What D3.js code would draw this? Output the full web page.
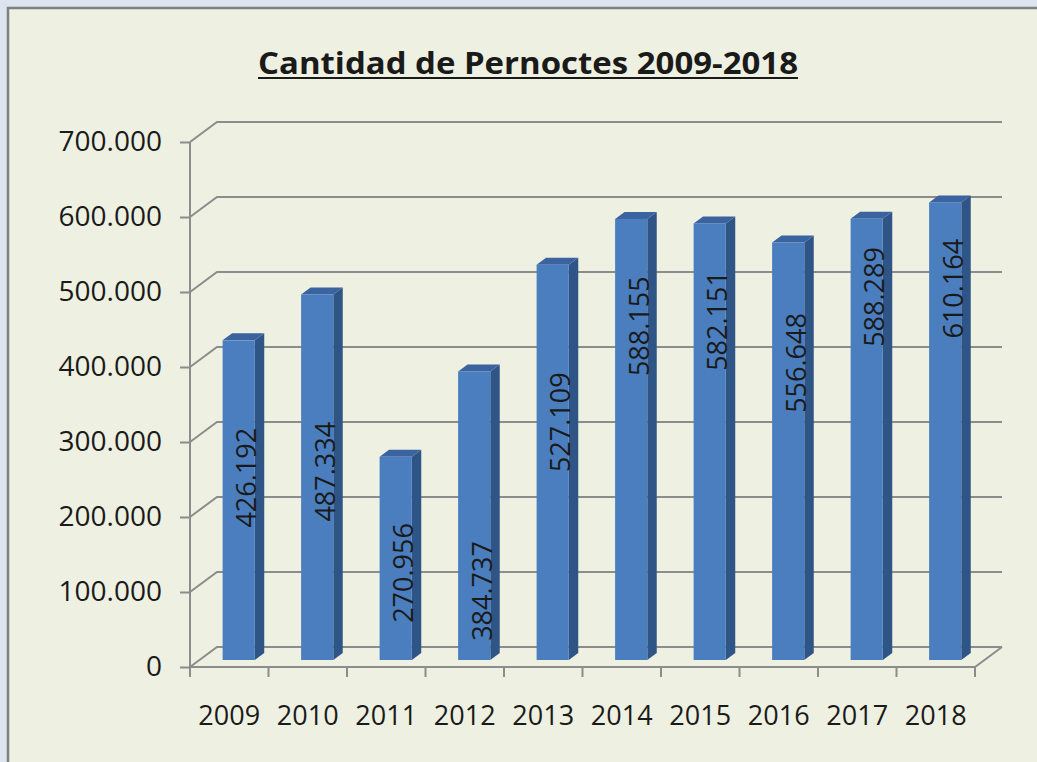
<!DOCTYPE html>
<html>
<head>
<meta charset="utf-8">
<script src="https://cdn.jsdelivr.net/npm/d3@7"></script>
<style>
  body { margin: 0; background: #dce4f0; }
  svg { display: block; }
  text { font-family: "Open Sans", sans-serif; fill: #1a1a1a; }
</style>
</head>
<body>
<div id="chart"></div>
<script>
// Data
var years = ["2009", "2010", "2011", "2012", "2013", "2014", "2015", "2016", "2017", "2018"];
var pernoctes = [426192, 487334, 270956, 384737, 527109, 588155, 582151, 556648, 588289, 610164];
// where each value label sits along its bar (in axis units)
var labelAt = [243000, 251000, 116000, 92000, 317000, 445000, 452000, 396000, 484000, 495000];
var yTicks = [0, 100000, 200000, 300000, 400000, 500000, 600000, 700000];
var title = "Cantidad de Pernoctes 2009-2018";

// Placement
var width = 1037,
  height = 762,
  left = 190,
  right = 975,
  floorY = 667,
  topY = 142,
  depthX = 27,   // full depth of the 3d box
  depthY = -20,
  barFront = 0.35, // bars sit between these depth fractions
  barBack = 0.70;

var es = d3.formatLocale({decimal: ",", thousands: ".", grouping: [3], currency: ["", ""]});
var fmt = es.format(",d");

var x = d3.scaleBand()
  .domain(years)
  .range([left, right])
  .paddingInner(0.59)
  .paddingOuter(0.295);

var y = d3.scaleLinear()
  .domain([0, 700000])
  .range([floorY, topY]);

// shift a front-plane point back by depth fraction d
function px(xv, d) { return xv + d * depthX; }
function py(yv, d) { return yv + d * depthY; }

var svg = d3.select("#chart")
  .append("svg")
  .attr("width", width)
  .attr("height", height);

svg.append("rect")
  .attr("width", width)
  .attr("height", height)
  .attr("fill", "#dce4f0");

svg.append("rect")
  .attr("x", 8)
  .attr("y", 8)
  .attr("width", width + 20)
  .attr("height", height + 20)
  .attr("fill", "#eef0e1")
  .attr("stroke", "#808080")
  .attr("stroke-width", 2.5);

// title
var titleText = svg.append("text")
  .attr("x", 528)
  .attr("y", 74)
  .attr("text-anchor", "middle")
  .attr("font-size", 30)
  .attr("font-weight", "bold")
  .attr("textLength", 540)
  .attr("lengthAdjust", "spacingAndGlyphs")
  .text(title);

svg.append("line")
  .attr("x1", 258)
  .attr("x2", 798)
  .attr("y1", 78)
  .attr("y2", 78)
  .attr("stroke", "#1a1a1a")
  .attr("stroke-width", 2.2);

var grid = svg.append("g")
  .attr("fill", "none")
  .attr("stroke", "#8c8c8c")
  .attr("stroke-width", 2);

// gridlines: diagonal on the side wall, then along the back wall
grid.selectAll("path.grid")
  .data(yTicks)
  .enter().append("path")
  .attr("class", "grid")
  .attr("d", function(d) {
    return "M" + left + "," + y(d) +
      "L" + px(left, 1) + "," + py(y(d), 1) +
      "L" + px(right, 1) + "," + py(y(d), 1);
  });

// floor front edge and right edge
grid.append("path")
  .attr("d", "M" + left + "," + floorY + "L" + right + "," + floorY +
    "L" + px(right, 1) + "," + py(floorY, 1));

// y axis
var yAxis = d3.axisLeft(y)
  .tickValues(yTicks)
  .tickSize(10)
  .tickPadding(18)
  .tickFormat(fmt);

var yG = svg.append("g")
  .attr("transform", "translate(" + left + ",0)")
  .call(yAxis);
yG.select(".domain").attr("stroke", "#8c8c8c").attr("stroke-width", 2)
  .attr("d", "M0," + topY + "V" + floorY);
yG.selectAll(".tick line").attr("stroke", "#8c8c8c").attr("stroke-width", 2);
yG.selectAll(".tick text")
  .attr("font-size", 28)
  .attr("font-family", "Open Sans, sans-serif")
  .attr("fill", "#1a1a1a");

// x ticks at band edges
var edges = years.map(function(d, i) { return left + i * x.step(); }).concat([right]);
svg.append("g").selectAll("line")
  .data(edges)
  .enter().append("line")
  .attr("x1", function(d) { return d; })
  .attr("x2", function(d) { return d; })
  .attr("y1", floorY)
  .attr("y2", floorY + 10)
  .attr("stroke", "#8c8c8c")
  .attr("stroke-width", 2);

svg.append("g").selectAll("text")
  .data(years)
  .enter().append("text")
  .attr("x", function(d) { return x(d) + x.bandwidth() / 2; })
  .attr("y", 725)
  .attr("text-anchor", "middle")
  .attr("font-size", 27)
  .text(function(d) { return d; });

// bars
var rows = years.map(function(d, i) { return {year: d, value: pernoctes[i], label: labelAt[i]}; });

var bars = svg.append("g").selectAll("g.bar")
  .data(rows)
  .enter().append("g")
  .attr("class", "bar");

function pts(list) { return list.map(function(p) { return p.join(","); }).join(" "); }

bars.append("polygon")
  .attr("fill", "#2f5587")
  .attr("points", function(d) {
    var x1 = x(d.year) + x.bandwidth(), yt = y(d.value), yb = y(0);
    return pts([[px(x1, barFront), py(yt, barFront)], [px(x1, barBack), py(yt, barBack)],
      [px(x1, barBack), py(yb, barBack)], [px(x1, barFront), py(yb, barFront)]]);
  });

bars.append("polygon")
  .attr("fill", "#3b63a0")
  .attr("points", function(d) {
    var x0 = x(d.year), x1 = x0 + x.bandwidth(), yt = y(d.value);
    return pts([[px(x0, barFront), py(yt, barFront)], [px(x1, barFront), py(yt, barFront)],
      [px(x1, barBack), py(yt, barBack)], [px(x0, barBack), py(yt, barBack)]]);
  });

bars.append("rect")
  .attr("fill", "#4a7ebf")
  .attr("x", function(d) { return px(x(d.year), barFront); })
  .attr("y", function(d) { return py(y(d.value), barFront); })
  .attr("width", x.bandwidth())
  .attr("height", function(d) { return y(0) - y(d.value); });

bars.append("text")
  .attr("transform", function(d) {
    var cx = px(x(d.year) + x.bandwidth() / 2, barFront) + 8;
    var cy = py(y(d.label), barFront);
    return "translate(" + cx + "," + cy + ")rotate(-90)";
  })
  .attr("text-anchor", "middle")
  .attr("dy", "0.35em")
  .attr("font-size", 27)
  .text(function(d) { return fmt(d.value); });
</script>
</body>
</html>
